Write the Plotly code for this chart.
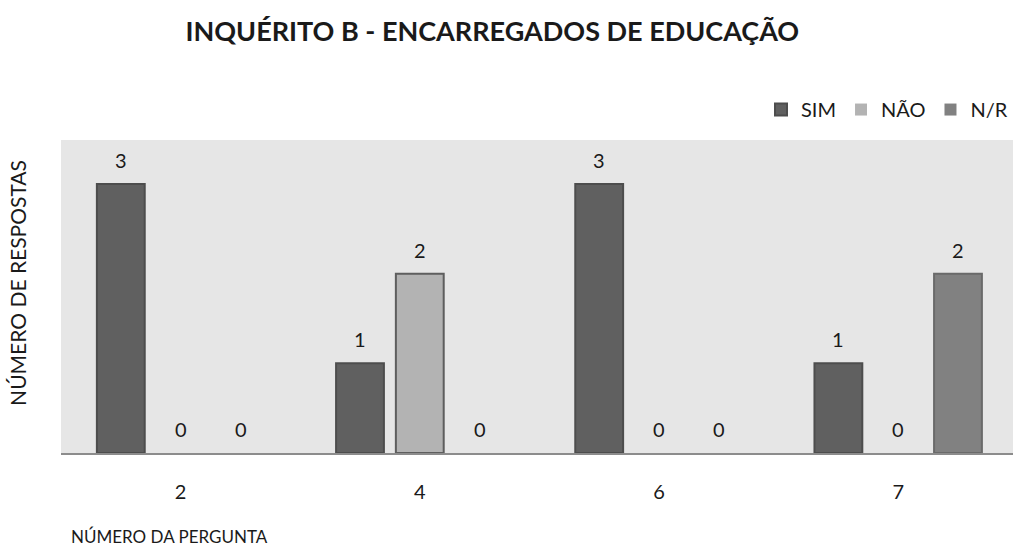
import plotly.graph_objects as go

categories = ["2", "4", "6", "7"]
sim = [3, 1, 3, 1]
nao = [0, 2, 0, 0]
nr = [0, 0, 0, 2]
series_names = ["SIM", "NÃO", "N/R"]
fill_colors = ["#606060", "#b3b3b3", "#818181"]
line_colors = ["#4d4d4d", "#5e5e5e", "#6a6a6a"]
FONT = "Lato, Open Sans, sans-serif"

fig = go.Figure()
for name, vals, fc, lc in zip(series_names, [sim, nao, nr], fill_colors, line_colors):
    fig.add_trace(go.Bar(
        x=categories, y=vals, name=name,
        marker=dict(color=fc, line=dict(color=lc, width=[2 if v > 0 else 0 for v in vals])),
    ))

# value labels above bars
offsets = [-60, 0, 60]
for vals, dx in zip([sim, nao, nr], offsets):
    for i, v in enumerate(vals):
        fig.add_annotation(x=i, y=v, xref="x", yref="y", text=str(v),
                           showarrow=False, xshift=dx, yshift=24,
                           font=dict(family=FONT, size=20, color="#1a1a1a"))

fig.add_annotation(text="NÚMERO DA PERGUNTA", xref="paper", yref="paper",
                   x=0.0095, y=-0.266, xanchor="left", yanchor="middle", showarrow=False,
                   borderpad=0, font=dict(family=FONT, size=17, color="#1a1a1a"))
fig.add_annotation(text="NÚMERO DE RESPOSTAS", xref="paper", yref="paper",
                   x=-0.045, y=0.544, xanchor="center", yanchor="middle", showarrow=False,
                   textangle=-90, font=dict(family=FONT, size=21, color="#1a1a1a"))

fig.update_layout(
    width=1013, height=549,
    margin=dict(l=61, r=0, t=140, b=96),
    paper_bgcolor="white", plot_bgcolor="#e6e6e6",
    barmode="group", bargap=0.25, bargroupgap=0.2,
    title=dict(text="<b>INQUÉRITO B - ENCARREGADOS DE EDUCAÇÃO</b>", x=0.486, xanchor="center",
               y=0.942, yanchor="middle", font=dict(family=FONT, size=27, color="#1a1a1a")),
    legend=dict(orientation="h", x=1.0, xanchor="right", y=1.035, yanchor="bottom",
                font=dict(family=FONT, size=20, color="#1a1a1a"), bgcolor="rgba(0,0,0,0)",
                itemwidth=30, traceorder="normal"),
    showlegend=True,
)
fig.update_xaxes(type="category", showline=True, linecolor="#8c8c8c", linewidth=2,
                 showgrid=False, ticks="", ticklabelstandoff=20, range=[-0.5, 3.48],
                 tickfont=dict(family=FONT, size=20, color="#1a1a1a"))
fig.update_yaxes(range=[0, 3.49], showticklabels=False, showgrid=False, zeroline=False, ticks="")

fig.write_html("out.html")
